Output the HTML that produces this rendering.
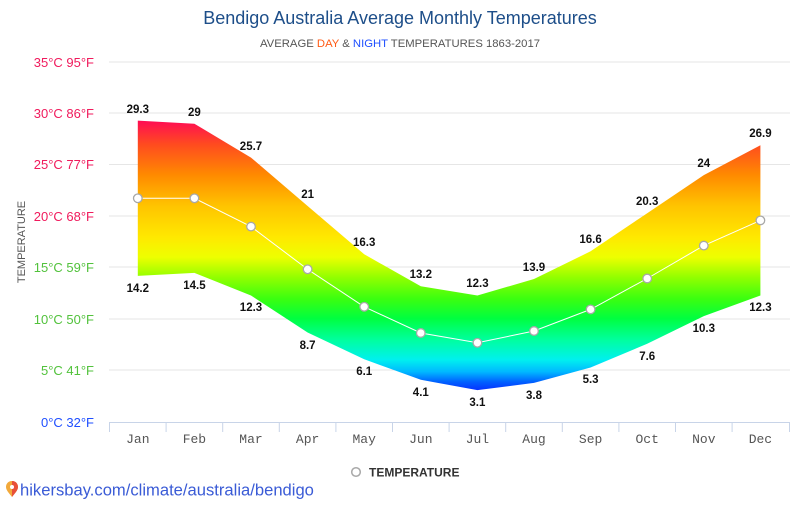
<!DOCTYPE html>
<html>
<head>
<meta charset="utf-8">
<style>
html,body{margin:0;padding:0;background:#fff;}
body{width:800px;height:500px;overflow:hidden;font-family:"Liberation Sans",sans-serif;}
svg text{font-family:"Liberation Sans",sans-serif;}
svg text.mono{font-family:"Liberation Mono","DejaVu Sans Mono",monospace;}
</style>
</head>
<body>
<svg width="800" height="500" viewBox="0 0 800 500" xmlns="http://www.w3.org/2000/svg">
  <defs>
    <linearGradient id="g" gradientUnits="userSpaceOnUse" x1="0" y1="120" x2="0" y2="392">
      <stop offset="0" stop-color="#ff0a55"/>
      <stop offset="0.088" stop-color="#ff4a20"/>
      <stop offset="0.202" stop-color="#ff8a00"/>
      <stop offset="0.316" stop-color="#ffc400"/>
      <stop offset="0.43" stop-color="#ffe800"/>
      <stop offset="0.504" stop-color="#eeff00"/>
      <stop offset="0.58" stop-color="#90ff00"/>
      <stop offset="0.658" stop-color="#3aff10"/>
      <stop offset="0.73" stop-color="#00ff40"/>
      <stop offset="0.81" stop-color="#00ffa0"/>
      <stop offset="0.882" stop-color="#00f0ef"/>
      <stop offset="0.926" stop-color="#00b8ff"/>
      <stop offset="0.963" stop-color="#0060ff"/>
      <stop offset="1" stop-color="#0828ff"/>
    </linearGradient>
  </defs>

  <!-- Title -->
  <text x="400" y="24" text-anchor="middle" font-size="18" fill="#1d4e89">Bendigo Australia Average Monthly Temperatures</text>
  <text x="400" y="47" text-anchor="middle" font-size="11.3" fill="#555">AVERAGE <tspan fill="#ff5a14">DAY</tspan> &amp; <tspan fill="#1f4fff">NIGHT</tspan> TEMPERATURES 1863-2017</text>

  <!-- Gridlines -->
  <g stroke="#e6e6e6" stroke-width="1">
    <line x1="109" y1="62" x2="790" y2="62"/>
    <line x1="109" y1="113" x2="790" y2="113"/>
    <line x1="109" y1="164.5" x2="790" y2="164.5"/>
    <line x1="109" y1="216" x2="790" y2="216"/>
    <line x1="109" y1="267" x2="790" y2="267"/>
    <line x1="109" y1="319" x2="790" y2="319"/>
    <line x1="109" y1="370" x2="790" y2="370"/>
  </g>

  <!-- Y labels -->
  <g font-size="13" text-anchor="end">
    <text x="94" y="67" fill="#f01a5c">35°C 95°F</text>
    <text x="94" y="118" fill="#f01a5c">30°C 86°F</text>
    <text x="94" y="169" fill="#f01a5c">25°C 77°F</text>
    <text x="94" y="221" fill="#f01a5c">20°C 68°F</text>
    <text x="94" y="272" fill="#52c23c">15°C 59°F</text>
    <text x="94" y="324" fill="#52c23c">10°C 50°F</text>
    <text x="94" y="375" fill="#52c23c">5°C 41°F</text>
    <text x="94" y="427" fill="#1f4fff">0°C 32°F</text>
  </g>
  <text transform="translate(25,242) rotate(-90)" text-anchor="middle" font-size="11" fill="#555">TEMPERATURE</text>

  <!-- Area -->
  <polygon fill="url(#g)" points="137.8,120.6 194.4,123.7 251.0,157.6 307.6,206.0 364.2,254.3 420.8,286.2 477.4,295.5 534.0,279.0 590.6,251.3 647.2,213.2 703.8,175.1 760.4,145.3 760.4,295.5 703.8,316.1 647.2,343.8 590.6,367.5 534.0,382.9 477.4,390.1 420.8,379.8 364.2,359.3 307.6,332.5 251.0,295.5 194.4,272.9 137.8,275.9"/>

  <!-- Axis -->
  <line x1="109" y1="422.5" x2="790" y2="422.5" stroke="#c8d4e8" stroke-width="1"/>
  <g stroke="#c8d4e8" stroke-width="1">
    <line x1="109.5" y1="422" x2="109.5" y2="432"/>
    <line x1="166.1" y1="422" x2="166.1" y2="432"/>
    <line x1="222.7" y1="422" x2="222.7" y2="432"/>
    <line x1="279.3" y1="422" x2="279.3" y2="432"/>
    <line x1="335.9" y1="422" x2="335.9" y2="432"/>
    <line x1="392.5" y1="422" x2="392.5" y2="432"/>
    <line x1="449.1" y1="422" x2="449.1" y2="432"/>
    <line x1="505.7" y1="422" x2="505.7" y2="432"/>
    <line x1="562.3" y1="422" x2="562.3" y2="432"/>
    <line x1="618.9" y1="422" x2="618.9" y2="432"/>
    <line x1="675.5" y1="422" x2="675.5" y2="432"/>
    <line x1="732.1" y1="422" x2="732.1" y2="432"/>
    <line x1="789.5" y1="422" x2="789.5" y2="432"/>
  </g>
  <g font-size="13" fill="#555" text-anchor="middle">
    <text class="mono" x="137.8" y="443">Jan</text>
    <text class="mono" x="194.4" y="443">Feb</text>
    <text class="mono" x="251.0" y="443">Mar</text>
    <text class="mono" x="307.6" y="443">Apr</text>
    <text class="mono" x="364.2" y="443">May</text>
    <text class="mono" x="420.8" y="443">Jun</text>
    <text class="mono" x="477.4" y="443">Jul</text>
    <text class="mono" x="534.0" y="443">Aug</text>
    <text class="mono" x="590.6" y="443">Sep</text>
    <text class="mono" x="647.2" y="443">Oct</text>
    <text class="mono" x="703.8" y="443">Nov</text>
    <text class="mono" x="760.4" y="443">Dec</text>
  </g>

  <!-- Mean line -->
  <polyline fill="none" stroke="#fff" stroke-width="1" points="137.8,198.3 194.4,198.3 251.0,226.6 307.6,269.3 364.2,306.8 420.8,333.0 477.4,342.8 534.0,331.0 590.6,309.4 647.2,278.5 703.8,245.6 760.4,220.4"/>
  <g fill="#fff" stroke="#a8a8a8" stroke-width="1.3">
    <circle cx="137.8" cy="198.3" r="4.3"/>
    <circle cx="194.4" cy="198.3" r="4.3"/>
    <circle cx="251.0" cy="226.6" r="4.3"/>
    <circle cx="307.6" cy="269.3" r="4.3"/>
    <circle cx="364.2" cy="306.8" r="4.3"/>
    <circle cx="420.8" cy="333.0" r="4.3"/>
    <circle cx="477.4" cy="342.8" r="4.3"/>
    <circle cx="534.0" cy="331.0" r="4.3"/>
    <circle cx="590.6" cy="309.4" r="4.3"/>
    <circle cx="647.2" cy="278.5" r="4.3"/>
    <circle cx="703.8" cy="245.6" r="4.3"/>
    <circle cx="760.4" cy="220.4" r="4.3"/>
  </g>

  <!-- Data labels -->
  <g font-size="11.5" font-weight="bold" fill="#111" text-anchor="middle">
    <text x="137.8" y="113">29.3</text>
    <text x="194.4" y="116">29</text>
    <text x="251.0" y="150">25.7</text>
    <text x="307.6" y="198">21</text>
    <text x="364.2" y="246">16.3</text>
    <text x="420.8" y="278">13.2</text>
    <text x="477.4" y="287">12.3</text>
    <text x="534.0" y="271">13.9</text>
    <text x="590.6" y="243">16.6</text>
    <text x="647.2" y="205">20.3</text>
    <text x="703.8" y="167">24</text>
    <text x="760.4" y="137">26.9</text>

    <text x="137.8" y="292">14.2</text>
    <text x="194.4" y="289">14.5</text>
    <text x="251.0" y="311">12.3</text>
    <text x="307.6" y="349">8.7</text>
    <text x="364.2" y="375">6.1</text>
    <text x="420.8" y="396">4.1</text>
    <text x="477.4" y="406">3.1</text>
    <text x="534.0" y="399">3.8</text>
    <text x="590.6" y="383">5.3</text>
    <text x="647.2" y="360">7.6</text>
    <text x="703.8" y="332">10.3</text>
    <text x="760.4" y="311">12.3</text>
  </g>

  <!-- Legend -->
  <circle cx="356" cy="472" r="4.3" fill="#fff" stroke="#a8a8a8" stroke-width="1.5"/>
  <text x="369" y="476.5" font-size="12" font-weight="bold" fill="#333">TEMPERATURE</text>

  <!-- Footer -->
  <g transform="translate(12,489)">
    <path d="M0,-8 C-4.5,-8 -6,-4.5 -6,-2 C-6,1.5 -2.5,4.5 0,8 C2.5,4.5 6,1.5 6,-2 C6,-4.5 4.5,-8 0,-8 Z" fill="#f2a93b"/>
    <path d="M0,-8 C4.5,-8 6,-4.5 6,-2 C6,1.5 2.5,4.5 0,8 Z" fill="#e8503a"/>
    <circle cx="0" cy="-2" r="2" fill="#fff"/>
  </g>
  <text x="20" y="495.5" font-size="16.6" fill="#3a5bd6">hikersbay.com/climate/australia/bendigo</text>
</svg>
</body>
</html>
